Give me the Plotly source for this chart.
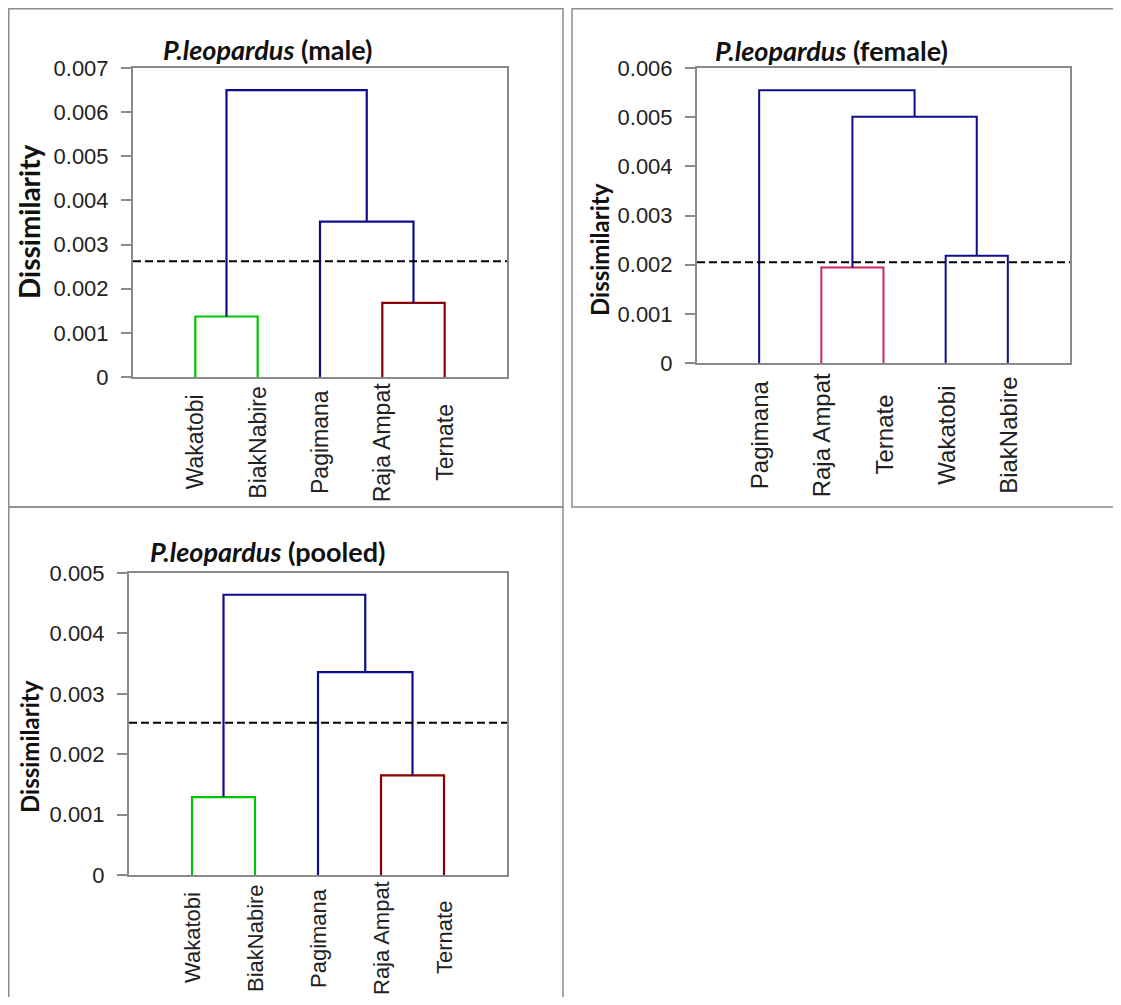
import plotly.graph_objects as go

# ------------------------------------------------------------------ data
male_leaves = ["Wakatobi", "BiakNabire", "Pagimana", "Raja Ampat", "Ternate"]
male_left = [0, 3, 2, 5]          # linkage: child A of each merge (leaf idx, or n+k for merge k)
male_right = [1, 4, 6, 7]         # linkage: child B
male_height = [0.00137, 0.00168, 0.00352, 0.0065]
male_cut = 0.00262
male_ymax = 0.007

female_leaves = ["Pagimana", "Raja Ampat", "Ternate", "Wakatobi", "BiakNabire"]
female_left = [1, 3, 5, 0]
female_right = [2, 4, 6, 7]
female_height = [0.00194, 0.00218, 0.00501, 0.00555]
female_cut = 0.00205
female_ymax = 0.006

pooled_leaves = ["Wakatobi", "BiakNabire", "Pagimana", "Raja Ampat", "Ternate"]
pooled_left = [0, 3, 2, 5]
pooled_right = [1, 4, 6, 7]
pooled_height = [0.00129, 0.00165, 0.00336, 0.00464]
pooled_cut = 0.00252
pooled_ymax = 0.005

titles = ["(male)", "(female)", "(pooled)"]
species = "P.leopardus"
y_title = "Dissimilarity"

# ------------------------------------------------------------------ styles
PAGE_W, PAGE_H = 1121, 1005
OFF = 8                      # default page body margin
W, H = PAGE_W - 2 * OFF, PAGE_H - 2 * OFF
NAVY = "#0e0e8c"
GREEN = "#00c400"
DRED = "#8b0000"
CRIM = "#d2245c"
male_colors = [GREEN, DRED, NAVY, NAVY]
female_colors = [CRIM, NAVY, NAVY, NAVY]
pooled_colors = [GREEN, DRED, NAVY, NAVY]

AX_GRAY = "#8a8a8a"
TXT = "#222222"
TICK_FONT = dict(family="Liberation Sans, Arial, sans-serif", size=22, color=TXT)
TITLE_FAMILY = "Lato, Carlito, sans-serif"


def px(x):
    return (x - OFF) / W


def py(y):
    return 1 - (y - OFF) / H


def segments(leaves, left, right, heights):
    n = len(leaves)
    xpos = {i: i + 1 for i in range(n)}
    hpos = {i: 0.0 for i in range(n)}
    segs = []
    for k, (a, b, h) in enumerate(zip(left, right, heights)):
        xa, xb = xpos[a], xpos[b]
        segs.append(([xa, xa, xb, xb], [hpos[a], h, h, hpos[b]]))
        xpos[n + k] = (xa + xb) / 2
        hpos[n + k] = h
    return segs


panels = [
    dict(leaves=male_leaves, left=male_left, right=male_right, h=male_height,
         cut=male_cut, ymax=male_ymax, colors=male_colors, title=titles[0],
         box=(133, 507, 68, 377), title_xy=(267, 49), ytitle_xy=(29, 222),
         ytitle_size=28, label_cy=442, label_size=23, lw=2.2),
    dict(leaves=female_leaves, left=female_left, right=female_right, h=female_height,
         cut=female_cut, ymax=female_ymax, colors=female_colors, title=titles[1],
         box=(697, 1070, 68, 363), title_xy=(831, 50), ytitle_size=24,
         ytitle_xy=(600, 250), label_cy=435, label_size=24, lw=2.0),
    dict(leaves=pooled_leaves, left=pooled_left, right=pooled_right, h=pooled_height,
         cut=pooled_cut, ymax=pooled_ymax, colors=pooled_colors, title=titles[2],
         box=(129, 507, 573, 875), title_xy=(267, 551), ytitle_size=24,
         ytitle_xy=(29, 747), label_cy=938, label_size=22, lw=2.2),
]

fig = go.Figure()
annotations = []
shapes = []

for i, p in enumerate(panels, start=1):
    xa = "x" if i == 1 else f"x{i}"
    ya = "y" if i == 1 else f"y{i}"
    x0, x1, y0, y1 = p["box"]
    for (xs, ys), col in zip(segments(p["leaves"], p["left"], p["right"], p["h"]), p["colors"]):
        fig.add_trace(go.Scatter(x=xs, y=ys, mode="lines", xaxis=xa, yaxis=ya,
                                 line=dict(color=col, width=p["lw"]),
                                 hoverinfo="skip", showlegend=False))
    # cut line
    shapes.append(dict(type="line", xref=xa, yref=ya, x0=0, x1=len(p["leaves"]) + 1,
                       y0=p["cut"], y1=p["cut"],
                       line=dict(color="black", width=2, dash="8px,4px")))
    lay_x = "xaxis" if i == 1 else f"xaxis{i}"
    lay_y = "yaxis" if i == 1 else f"yaxis{i}"
    fig.update_layout({
        lay_x: dict(domain=[px(x0), px(x1)], range=[0, len(p["leaves"]) + 1],
                    anchor=ya, showgrid=False, zeroline=False, showticklabels=False,
                    ticks="", showline=True, mirror=True, linecolor=AX_GRAY, linewidth=2,
                    fixedrange=True, automargin=False),
        lay_y: dict(domain=[py(y1), py(y0)], range=[0, p["ymax"]], dtick=0.001,
                    anchor=xa, showgrid=False, zeroline=False, ticks="outside",
                    ticklen=10, tickwidth=1.5, tickcolor=AX_GRAY, tickfont=TICK_FONT,
                    ticklabelstandoff=8, showline=True, mirror=True,
                    linecolor=AX_GRAY, linewidth=2, fixedrange=True, automargin=False),
    })
    # title
    annotations.append(dict(
        text=f"<b><i>{species}</i> {p['title']}</b>", xref="paper", yref="paper",
        x=px(p["title_xy"][0]), y=py(p["title_xy"][1]), xanchor="center", yanchor="middle",
        showarrow=False, font=dict(family=TITLE_FAMILY, size=27, color="#111111")))
    # y title
    annotations.append(dict(
        text=f"<b>{y_title}</b>", xref="paper", yref="paper", textangle=-90,
        x=px(p["ytitle_xy"][0]), y=py(p["ytitle_xy"][1]), xanchor="center", yanchor="middle",
        showarrow=False, font=dict(family=TITLE_FAMILY, size=p["ytitle_size"], color="#111111")))
    # leaf labels
    for j, lab in enumerate(p["leaves"]):
        annotations.append(dict(
            text=lab, xref=xa, yref="paper", x=j + 1, y=py(p["label_cy"]),
            textangle=-90, xanchor="center", yanchor="middle", showarrow=False,
            font=dict(family="Liberation Sans, Arial, sans-serif", size=p["label_size"], color=TXT)))

# outer panel frames
FRAME = "#8c8c8c"
for (fx0, fy0, fx1, fy1) in [(8.8, 8.8, 563, 507), (572, 8.8, 1130, 507), (8.8, 507, 563, 1012)]:
    shapes.append(dict(type="rect", xref="paper", yref="paper",
                       x0=px(fx0), x1=px(fx1), y0=py(fy1), y1=py(fy0),
                       line=dict(color=FRAME, width=1.5), fillcolor="rgba(0,0,0,0)", layer="below"))

fig.update_layout(width=W, height=H, margin=dict(l=0, r=0, t=0, b=0, autoexpand=False),
                  paper_bgcolor="white", plot_bgcolor="white", showlegend=False,
                  annotations=annotations, shapes=shapes)

fig.write_html("out.html")
